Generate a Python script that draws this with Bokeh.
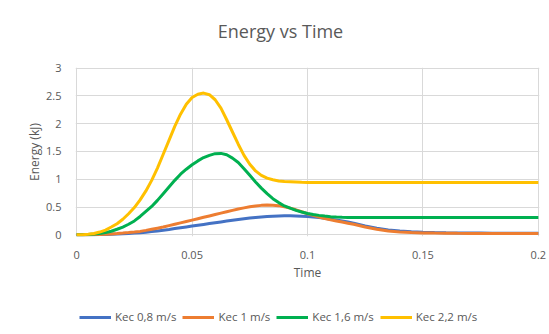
from bokeh.plotting import figure
from bokeh.models import Range1d, FixedTicker, Legend, LegendItem, Label
from bokeh.layouts import column
from bokeh.embed import file_html
from bokeh.resources import INLINE

# ---------------- data ----------------
time = [0.0, 0.0025, 0.005, 0.0075, 0.01, 0.0125, 0.015, 0.0175, 0.02, 0.0225,
        0.025, 0.0275, 0.03, 0.0325, 0.035, 0.0375, 0.04, 0.0425, 0.045, 0.0475,
        0.05, 0.0525, 0.055, 0.0575, 0.06, 0.0625, 0.065, 0.0675, 0.07, 0.0725,
        0.075, 0.0775, 0.08, 0.0825, 0.085, 0.0875, 0.09, 0.0925, 0.095, 0.0975,
        0.1, 0.1025, 0.105, 0.1075, 0.11, 0.1125, 0.115, 0.1175, 0.12,
        0.125, 0.13, 0.135, 0.14, 0.145, 0.15, 0.155, 0.16, 0.165, 0.17,
        0.175, 0.18, 0.185, 0.19, 0.195, 0.2]

kec_08 = [0.0, 0.0005, 0.001, 0.002, 0.004, 0.006, 0.009, 0.013, 0.018, 0.024,
          0.031, 0.039, 0.048, 0.058, 0.07, 0.083, 0.097, 0.112, 0.127, 0.142,
          0.157, 0.172, 0.187, 0.202, 0.217, 0.232, 0.247, 0.262, 0.277, 0.29,
          0.302, 0.313, 0.322, 0.33, 0.336, 0.34, 0.342, 0.342, 0.34, 0.336,
          0.33, 0.321, 0.31, 0.296, 0.28, 0.266, 0.25, 0.231, 0.21,
          0.16, 0.12, 0.088, 0.068, 0.055, 0.046, 0.04, 0.036, 0.034, 0.032,
          0.031, 0.03, 0.029, 0.029, 0.028, 0.028]

kec_1 = [0.0, 0.001, 0.002, 0.004, 0.007, 0.011, 0.016, 0.023, 0.031, 0.04,
         0.05, 0.062, 0.08, 0.1, 0.12, 0.14, 0.165, 0.19, 0.215, 0.24,
         0.265, 0.29, 0.315, 0.34, 0.365, 0.39, 0.415, 0.44, 0.465, 0.485,
         0.505, 0.52, 0.53, 0.535, 0.533, 0.525, 0.505, 0.48, 0.45, 0.415,
         0.38, 0.35, 0.32, 0.295, 0.27, 0.25, 0.23, 0.21, 0.19,
         0.14, 0.1, 0.07, 0.052, 0.042, 0.035, 0.031, 0.029, 0.027, 0.026,
         0.025, 0.025, 0.024, 0.024, 0.024, 0.024]

kec_16 = [0.0, 0.002, 0.006, 0.013, 0.025, 0.04, 0.065, 0.1, 0.14, 0.19,
          0.25, 0.33, 0.42, 0.51, 0.62, 0.74, 0.86, 0.98, 1.09, 1.18,
          1.26, 1.33, 1.39, 1.43, 1.46, 1.465, 1.44, 1.38, 1.3, 1.19,
          1.07, 0.95, 0.84, 0.74, 0.65, 0.58, 0.52, 0.48, 0.44, 0.41,
          0.385, 0.365, 0.35, 0.337, 0.327, 0.32, 0.315, 0.312, 0.31,
          0.31, 0.31, 0.31, 0.31, 0.31, 0.31, 0.31, 0.31, 0.31, 0.31,
          0.31, 0.31, 0.31, 0.31, 0.31, 0.31]

kec_22 = [0.0, 0.003, 0.01, 0.025, 0.05, 0.085, 0.14, 0.2, 0.28, 0.38,
          0.49, 0.63, 0.79, 0.98, 1.2, 1.45, 1.7, 1.95, 2.17, 2.35,
          2.47, 2.53, 2.55, 2.52, 2.43, 2.28, 2.07, 1.85, 1.63, 1.43,
          1.27, 1.15, 1.07, 1.02, 0.99, 0.97, 0.96, 0.955, 0.95, 0.945,
          0.943, 0.942, 0.941, 0.94, 0.94, 0.94, 0.94, 0.94, 0.94,
          0.94, 0.94, 0.94, 0.94, 0.94, 0.94, 0.94, 0.94, 0.94, 0.94,
          0.94, 0.94, 0.94, 0.94, 0.94, 0.94]

series_names = ["Kec 0,8 m/s", "Kec 1 m/s", "Kec 1,6 m/s", "Kec 2,2 m/s"]
series_colors = ["#4472C4", "#ED7D31", "#00B050", "#FFC000"]

chart_title = "Energy vs Time"
x_ticks = [0, 0.05, 0.1, 0.15, 0.2]
x_tick_labels = ["0", "0.05", "0.1", "0.15", "0.2"]
y_ticks = [0, 0.5, 1, 1.5, 2, 2.5, 3]
y_tick_labels = ["0", "0.5", "1", "1.5", "2", "2.5", "3"]

# ---------------- styling ----------------
FONT = "Open Sans"
TXT = "#595959"
GRID = "#d9d9d9"
W = 549
FRAME_LEFT = 75
FRAME_W = 464

all_series = [kec_08, kec_1, kec_16, kec_22]

# ---- title strip (frames in a column are aligned: frame spans 75..539) ----
pt = figure(width=W, height=50, output_backend="svg", toolbar_location=None,
            x_range=Range1d(0, FRAME_W), y_range=Range1d(0, 50),
            x_axis_type=None, y_axis_type=None, min_border=0)
pt.outline_line_color = None
pt.add_layout(Label(x=280 - FRAME_LEFT, y=20, text=chart_title,
                    text_align="center", text_baseline="alphabetic",
                    text_font=FONT, text_font_size="18px", text_color=TXT))

# ---- main chart ----
p = figure(width=W, height=246, output_backend="svg", toolbar_location=None,
           x_range=Range1d(-0.0005, 0.2005), y_range=Range1d(-0.03, 3.01),
           min_border_left=FRAME_LEFT, min_border_right=10, min_border_top=17,
           min_border_bottom=60)
p.outline_line_color = None

for ax in (p.xaxis[0], p.yaxis[0]):
    ax.axis_line_color = None
    ax.major_tick_line_color = None
    ax.minor_tick_line_color = None
    ax.major_label_text_font = FONT
    ax.major_label_text_font_size = "11px"
    ax.major_label_text_color = TXT
    ax.axis_label_text_font = FONT
    ax.axis_label_text_font_size = "12px"
    ax.axis_label_text_font_style = "normal"
    ax.axis_label_text_color = TXT

p.xaxis.ticker = FixedTicker(ticks=x_ticks)
p.yaxis.ticker = FixedTicker(ticks=y_ticks)
p.xaxis.major_label_overrides = {t: l for t, l in zip(x_ticks, x_tick_labels)}
p.yaxis.major_label_overrides = {t: l for t, l in zip(y_ticks, y_tick_labels)}
p.xaxis.axis_label = "Time"
p.yaxis.axis_label = "Energy (kJ)"
p.xaxis.major_label_standoff = 8
p.yaxis.major_label_standoff = 8
p.xaxis.axis_label_standoff = 2
p.yaxis.axis_label_standoff = 0

p.xgrid.grid_line_color = GRID
p.ygrid.grid_line_color = GRID

for ys, col in zip(all_series, series_colors):
    p.line(time, ys, line_color=col, line_width=3)

# ---- legend strip (series drawn out of view, only the legend shows) ----
pl = figure(width=W, height=38, output_backend="svg", toolbar_location=None,
            x_range=Range1d(0, 1), y_range=Range1d(100, 101),
            x_axis_type=None, y_axis_type=None, min_border=0)
pl.outline_line_color = None
items = []
for ys, name, col in zip(all_series, series_names, series_colors):
    r = pl.line(time, ys, line_color=col, line_width=3)
    items.append(LegendItem(label=name, renderers=[r]))
legend = Legend(items=items, orientation="horizontal", location=(4, 10),
                glyph_width=32, glyph_height=12, label_standoff=4, spacing=6,
                padding=2, margin=0, border_line_color=None,
                background_fill_alpha=0,
                label_text_font=FONT, label_text_font_size="11.5px",
                label_text_color=TXT)
pl.add_layout(legend, "center")

layout = column(pt, p, pl, spacing=0)
open("out.html", "w").write(file_html(layout, INLINE))
